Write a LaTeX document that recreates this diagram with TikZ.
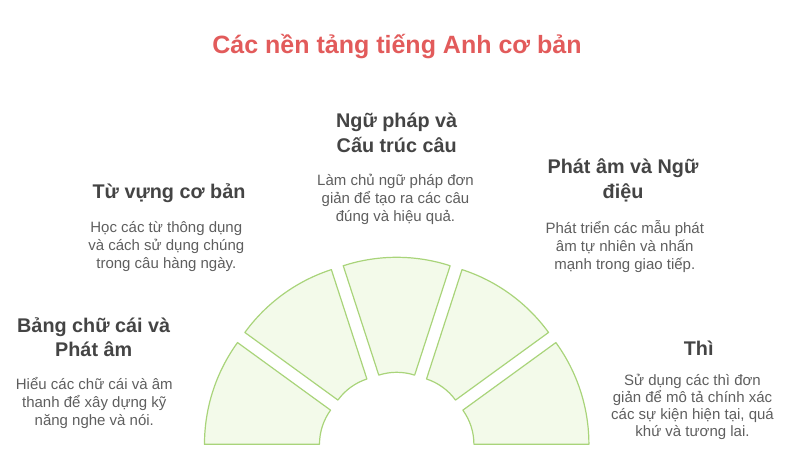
\documentclass[tikz,border=0pt]{standalone}
\usepackage{fontspec}
\setmainfont{Liberation Sans}
\definecolor{segfill}{HTML}{F3FAEA}
\definecolor{segline}{HTML}{A9D47A}
\definecolor{titlec}{HTML}{E25B5B}
\definecolor{headc}{HTML}{444444}
\definecolor{descc}{HTML}{5E5E5E}
\begin{document}
\begin{tikzpicture}[x=1pt,y=1pt,
  seg/.style={draw=segline, fill=segfill, line width=1.2pt, line join=round},
  titletext/.style={font=\bfseries\fontsize{25}{28}\selectfont, text=titlec, inner sep=0pt},
  head/.style={font=\bfseries\fontsize{19.8}{24.3}\selectfont, text=headc, align=center, inner sep=0pt},
  desc/.style={font=\fontsize{15}{18}\selectfont, text=descc, align=center, inner sep=0pt}]
\useasboundingbox (0,0) rectangle (800,458);
\coordinate (C) at (396.7,7.5);
\foreach \k in {0,...,4}{
  \pgfmathsetmacro\ao{180-36*\k}
  \pgfmathsetmacro\at{144-36*\k}
  \pgfmathsetmacro\am{162-36*\k}
  \coordinate (A) at ([shift={(\am:20.2pt)}]C);
  \draw[seg] ([shift={(\ao:58pt)}]A) arc[start angle=\ao, end angle=\at, radius=58pt]
     -- ([shift={(\at:173pt)}]A) arc[start angle=\at, end angle=\ao, radius=173pt] -- cycle;
}
\node[titletext] (title) at (397,411) {Các nền tảng tiếng Anh cơ bản};
\node[head] (h1) at (93.7,121) {Bảng chữ cái và\\Phát âm};
\node[desc] (d1) at (94.3,55.2) {Hiểu các chữ cái và âm\\thanh để xây dựng kỹ\\năng nghe và nói.};
\node[head] (h2) at (169,265.3) {Từ vựng cơ bản};
\node[desc] (d2) at (166.3,211.6) {Học các từ thông dụng\\và cách sử dụng chúng\\trong câu hàng ngày.};
\node[head] (h3) at (396.7,325.1) {Ngữ pháp và\\Cấu trúc câu};
\node[desc] (d3) at (395.5,258.8) {Làm chủ ngữ pháp đơn\\giản để tạo ra các câu\\đúng và hiệu quả.};
\node[head] (h4) at (623,277.5) {Phát âm và Ngữ\\điệu};
\node[desc] (d4) at (624.8,211.3) {Phát triển các mẫu phát\\âm tự nhiên và nhấn\\mạnh trong giao tiếp.};
\node[head] (h5) at (698.7,109.7) {Thì};
\node[desc, font=\fontsize{15}{17}\selectfont] (d5) at (692.5,50.8) {Sử dụng các thì đơn\\giản để mô tả chính xác\\các sự kiện hiện tại, quá\\khứ và tương lai.};
\end{tikzpicture}
\end{document}
